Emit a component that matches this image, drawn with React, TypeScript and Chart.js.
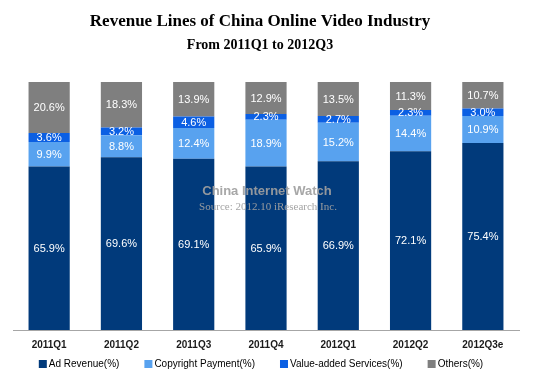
import React, { useEffect, useRef } from "react";
import { Chart, registerables } from "chart.js";

Chart.register(...registerables);

const categories = ["2011Q1", "2011Q2", "2011Q3", "2011Q4", "2012Q1", "2012Q2", "2012Q3e"];
const seriesNames = ["Ad Revenue(%)", "Copyright Payment(%)", "Value-added Services(%)", "Others(%)"];
const adRevenue = [65.9, 69.6, 69.1, 65.9, 66.9, 72.1, 75.4];
const copyrightPayment = [9.9, 8.8, 12.4, 18.9, 15.2, 14.4, 10.9];
const valueAdded = [3.6, 3.2, 4.6, 2.3, 2.7, 2.3, 3.0];
const others = [20.6, 18.3, 13.9, 12.9, 13.5, 11.3, 10.7];
const colors = ["#013a7b", "#58a2ef", "#0b5fe3", "#7f7f7f"];

const titleText = "Revenue Lines of China Online Video Industry";
const subtitleText = "From 2011Q1 to 2012Q3";
const watermarkText = "China Internet Watch";
const sourceText = "Source: 2012.10 iResearch Inc.";

const rawSeries = [adRevenue, copyrightPayment, valueAdded, others];
const totals = categories.map((_, i) => rawSeries.reduce((s, arr) => s + arr[i], 0));

const overlayPlugin = {
  id: "overlay",
  afterDatasetsDraw(chart: any) {
    const ctx = chart.ctx;
    ctx.save();
    ctx.font = "11px 'Liberation Sans', Arial, sans-serif";
    ctx.fillStyle = "#ffffff";
    ctx.textAlign = "center";
    ctx.textBaseline = "middle";
    chart.data.datasets.forEach((ds: any, di: number) => {
      const meta = chart.getDatasetMeta(di);
      meta.data.forEach((bar: any, j: number) => {
        const p = bar.getProps(["x", "y", "base"], true);
        ctx.fillText(ds.raw[j].toFixed(1) + "%", p.x, (p.y + p.base) / 2 + 0.5);
      });
    });
    ctx.fillStyle = "rgba(160,160,160,0.92)";
    ctx.font = "bold 13px 'Liberation Sans Narrow', 'Liberation Sans', Arial, sans-serif";
    ctx.fillText(watermarkText, 267, 191);
    ctx.font = "11px 'Liberation Serif', 'Times New Roman', serif";
    ctx.fillStyle = "rgba(160,160,160,0.95)";
    ctx.fillText(sourceText, 268, 207);
    ctx.restore();
  },
  afterDraw(chart: any) {
    const ctx = chart.ctx;
    ctx.save();
    ctx.textAlign = "center";
    ctx.textBaseline = "middle";
    ctx.fillStyle = "#000000";
    ctx.font = "bold 17px 'Liberation Serif', 'Times New Roman', serif";
    ctx.fillText(titleText, 260, 22);
    ctx.font = "bold 14px 'Liberation Serif', 'Times New Roman', serif";
    ctx.fillText(subtitleText, 260, 45);
    ctx.font = "10px 'Liberation Sans', Arial, sans-serif";
    ctx.textAlign = "left";
    const box = 8;
    const gapText = 2;
    const gapItem = 25;
    const widths = seriesNames.map((n) => box + gapText + ctx.measureText(n).width);
    const total = widths.reduce((a, b) => a + b, 0) + gapItem * (seriesNames.length - 1);
    let x = 261 - total / 2;
    const y = 364;
    seriesNames.forEach((n, i) => {
      ctx.fillStyle = colors[i];
      ctx.fillRect(x, y - box / 2, box, box);
      ctx.fillStyle = "#000000";
      ctx.fillText(n, x + box + gapText, y + 0.5);
      x += widths[i] + gapItem;
    });
    ctx.restore();
  },
};

export default function App() {
  const canvasRef = useRef<HTMLCanvasElement | null>(null);

  useEffect(() => {
    if (!canvasRef.current) return;
    const chart = new Chart(canvasRef.current, {
      type: "bar",
      data: {
        labels: categories,
        datasets: rawSeries.map((arr, k) => ({
          label: seriesNames[k],
          data: arr.map((v, i) => (v / totals[i]) * 100),
          raw: arr,
          backgroundColor: colors[k],
          borderWidth: 0,
          categoryPercentage: 1,
          barPercentage: 0.57,
        })) as any,
      },
      options: {
        animation: false,
        responsive: true,
        maintainAspectRatio: false,
        layout: { padding: { top: 82, left: 13, right: 14, bottom: 17 } },
        plugins: {
          legend: { display: false },
          title: { display: false },
          tooltip: { enabled: false },
        },
        scales: {
          x: {
            stacked: true,
            grid: { display: false, drawTicks: false },
            border: { display: true, color: "#a6a6a6", width: 1 },
            ticks: {
              padding: 9,
              color: "#1a1a1a",
              font: { family: "'Liberation Sans', Arial, sans-serif", size: 10, weight: "bold" },
            },
          },
          y: {
            stacked: true,
            display: false,
            min: 0,
            max: 100,
          },
        },
      },
      plugins: [overlayPlugin],
    });
    return () => chart.destroy();
  }, []);

  return (
    <div style={{ position: "absolute", left: 0, top: 0, width: 533, height: 377, background: "#ffffff" }}>
      <canvas ref={canvasRef} />
    </div>
  );
}
